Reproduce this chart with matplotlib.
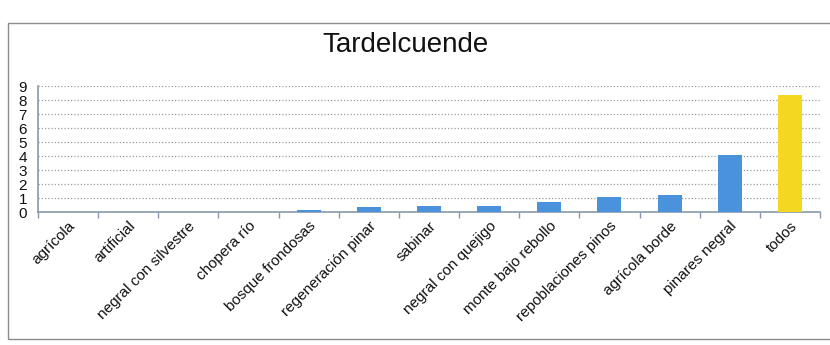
import numpy as np
import matplotlib
matplotlib.use("Agg")
import matplotlib.pyplot as plt
from matplotlib.patches import Rectangle
from matplotlib.ticker import FixedLocator

plt.rcParams["font.family"] = ["Liberation Sans", "DejaVu Sans"]

# Data
categories = [
    "agrícola", "artificial", "negral con silvestre", "chopera río",
    "bosque frondosas", "regeneración pinar", "sabinar", "negral con quejigo",
    "monte bajo rebollo", "repoblaciones pinos", "agrícola borde",
    "pinares negral", "todos",
]
values = [0, 0, 0, 0, 0.15, 0.35, 0.4, 0.45, 0.75, 1.05, 1.2, 4.05, 8.35]
y_ticks = list(range(0, 10))

BLUE = "#4a93dc"
YELLOW = "#f4d720"
AXIS = "#8898ad"
GRID = "#9c9c9c"

fig = plt.figure(figsize=(8.3, 3.45), dpi=100, facecolor="white")

# chart frame
fig.patches.append(Rectangle((8 / 830, 6 / 345), 1.0, 316 / 345,
                             transform=fig.transFigure, fill=False,
                             edgecolor="#8c8c8c", linewidth=1.0))

ax = fig.add_axes([38 / 830, 1 - 212 / 345, 782 / 830, 126 / 345])
x = np.arange(len(categories))
colors = [BLUE] * (len(categories) - 1) + [YELLOW]
ax.bar(x, values, width=0.4, color=colors, edgecolor="none", zorder=3)

ax.set_xlim(-0.5, len(categories) - 0.5)
ax.set_ylim(0, 9)
ax.set_yticks(y_ticks)
ax.set_yticklabels([str(t) for t in y_ticks], fontsize=11, color="#111111")
ax.tick_params(axis="y", length=0, pad=8)

for t in y_ticks[1:]:
    ax.axhline(t, color=GRID, linestyle=(0, (1, 1.6)), linewidth=0.9, zorder=1)

ax.set_xticks(x)
ax.set_xticklabels(categories, rotation=45, ha="right", va="top",
                   rotation_mode="anchor", fontsize=11, color="#111111")
ax.tick_params(axis="x", which="major", length=0, pad=5)
ax.xaxis.set_minor_locator(FixedLocator(np.arange(-0.5, len(categories), 1.0)))
ax.tick_params(axis="x", which="minor", length=4, color=AXIS, width=1)

for s in ["top", "right"]:
    ax.spines[s].set_visible(False)
for s in ["left", "bottom"]:
    ax.spines[s].set_color(AXIS)
    ax.spines[s].set_linewidth(1.2)

fig.text(405 / 830, 1 - 45 / 345, "Tardelcuende", ha="center", va="center",
         fontsize=20, color="#111111")

fig.savefig("out.png", dpi=100, facecolor="white")
